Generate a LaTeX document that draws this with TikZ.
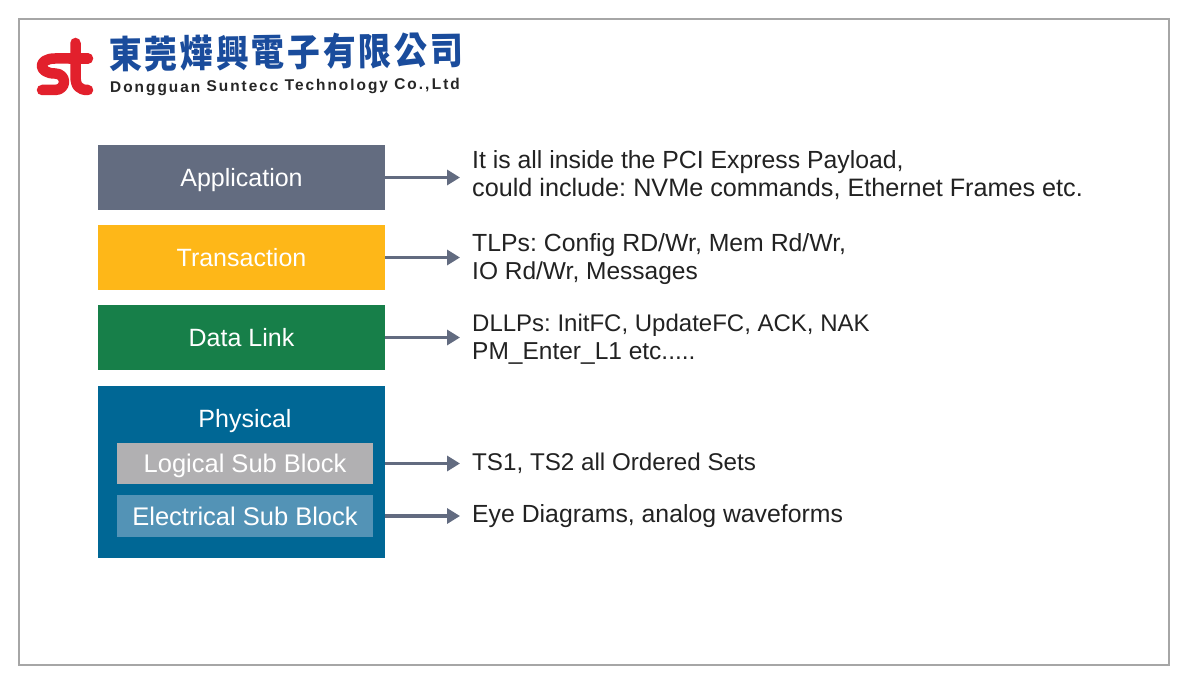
\documentclass[tikz,border=0pt]{standalone}
\usepackage{fontspec}
\setmainfont{Liberation Sans}
\newfontfamily\cjkfont{Noto Sans CJK TC}[BoldFont={Noto Sans CJK TC Black},LetterSpace=8]
\newfontfamily\logofont{Liberation Sans}[LetterSpace=12.5]
\usetikzlibrary{arrows.meta}
\definecolor{cApp}{HTML}{636C80}
\definecolor{cTrans}{HTML}{FEB718}
\definecolor{cLink}{HTML}{177F49}
\definecolor{cPhys}{HTML}{006795}
\definecolor{cLog}{HTML}{B1B0B2}
\definecolor{cElec}{HTML}{5393B6}
\definecolor{cArrow}{HTML}{626B80}
\definecolor{cFrame}{HTML}{A6A6A6}
\definecolor{cRed}{HTML}{E2202C}
\definecolor{cBlue}{HTML}{1A4C9C}
\definecolor{cInk}{HTML}{222222}
\newcommand{\linesize}[1]{\fontsize{#1}{28}\selectfont}
\tikzset{
  layerbox/.style={minimum width=287pt,inner sep=0pt,outer sep=0pt,text=white,text height=24pt,text depth=5pt,font=\fontsize{25}{30}\selectfont},
  subbox/.style={minimum width=256pt,minimum height=41.5pt,inner sep=0pt,outer sep=0pt,text=white,text height=23pt,text depth=5pt,font=\fontsize{25.5}{30}\selectfont},
  note/.style={anchor=west,align=left,inner sep=0pt,text=cInk,font=\frenchspacing\fontsize{24.5}{28}\selectfont},
  link/.style={draw=cArrow,line width=3.6pt,-{Triangle[length=13pt,width=15pt]},shorten >=12pt},
  logostroke/.style={draw=cRed,line width=10.5pt,line cap=round,line join=round}
}
\begin{document}
\begin{tikzpicture}[x=1pt,y=-1pt]
\useasboundingbox (0,0) rectangle (1188,684);
\fill[white] (0,0) rectangle (1188,684);
\draw[cFrame,line width=1.6pt] (19,19) rectangle (1169,665);
% logo
\draw[logostroke] (75.5,43) -- (75.5,76) .. controls (75.5,86) and (79,90) .. (88,90);
\draw[logostroke] (70,58.5) -- (88,58.5);
\draw[logostroke] (72,58.5) -- (55,58.5) .. controls (37,58.5) and (38,73.5) .. (55,73.5) .. controls (67,73.5) and (67,90) .. (55,90) -- (42,90);
\node[rotate=0.8,yscale=1.14,transform shape,inner sep=0pt,text=cBlue,font=\cjkfont\bfseries\fontsize{33}{33}\selectfont,anchor=center] (zh) at (286,52) {東莞燁興電子有限公司};
\node[rotate=0.65,inner sep=0pt,text=black!85,font=\logofont\bfseries\fontsize{15.5}{15.5}\selectfont,anchor=center] (en) at (285,87) {Dongguan Suntecc Technology Co.,\,Ltd};
% layers
\node[layerbox,fill=cApp,minimum height=65pt] (app) at (241.5,177.5) {Application};
\node[layerbox,fill=cTrans,minimum height=65pt] (trans) at (241.5,257.5) {Transaction};
\node[layerbox,fill=cLink,minimum height=65pt] (dl) at (241.5,337.5) {Data Link};
\node[layerbox,fill=cPhys,minimum height=172pt] (phys) at (241.5,472) {};
\node[inner sep=0pt,text=white,text height=18pt,text depth=5pt,font=\fontsize{25}{30}\selectfont] (physlabel) at (245,420.5) {Physical};
\node[subbox,fill=cLog] (log) at (245,463.5) {Logical Sub Block};
\node[subbox,fill=cElec] (elec) at (245,516) {Electrical Sub Block};
% notes
\node[note] (n1) at (472,175) {\linesize{24.8}It is all inside the PCI Express Payload,\\\linesize{25.2}could include: NVMe commands, Ethernet Frames etc.};
\node[note] (n2) at (472,259) {\linesize{24.8}TLPs: Config RD/Wr, Mem Rd/Wr,\\IO Rd/Wr, Messages};
\node[note] (n3) at (472,339) {\linesize{24}DLLPs: InitFC, UpdateFC, ACK, NAK\\\linesize{24.5}PM\_Enter\_L1 etc.....};
\node[note] (n4) at (472,463.5) {\linesize{24.2}TS1, TS2 all Ordered Sets};
\node[note] (n5) at (472,516.5) {\linesize{24.8}Eye Diagrams, analog waveforms};
% connectors
\draw[link] (app.east) -- (n1.west |- app.east);
\draw[link] (trans.east) -- (n2.west |- trans.east);
\draw[link] (dl.east) -- (n3.west |- dl.east);
\draw[link] (phys.east |- log.east) -- (n4.west |- log.east);
\draw[link] (phys.east |- elec.east) -- (n5.west |- elec.east);
\end{tikzpicture}
\end{document}
